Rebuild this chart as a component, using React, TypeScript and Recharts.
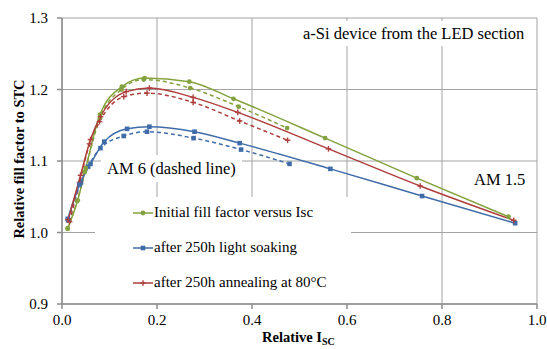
import React from "react";
import { LineChart, Line, XAxis, YAxis, CartesianGrid } from "recharts";

// relative Isc (x) and relative fill factor to STC (y)
const initialAm15X = [0.012, 0.033, 0.05, 0.08, 0.126, 0.174, 0.268, 0.361, 0.554, 0.747, 0.94];
const initialAm15Y = [1.006, 1.045, 1.09, 1.165, 1.204, 1.216, 1.211, 1.187, 1.132, 1.076, 1.022];
const initialAm6X = [0.012, 0.032, 0.048, 0.08, 0.125, 0.172, 0.27, 0.372, 0.474];
const initialAm6Y = [1.005, 1.044, 1.085, 1.16, 1.2, 1.214, 1.202, 1.176, 1.146];

const soakedAm15X = [0.012, 0.037, 0.06, 0.089, 0.137, 0.184, 0.279, 0.374, 0.565, 0.758, 0.954];
const soakedAm15Y = [1.019, 1.067, 1.096, 1.127, 1.145, 1.148, 1.141, 1.125, 1.089, 1.051, 1.013];
const soakedAm6X = [0.013, 0.04, 0.055, 0.081, 0.13, 0.179, 0.277, 0.377, 0.479];
const soakedAm6Y = [1.017, 1.07, 1.092, 1.118, 1.135, 1.141, 1.132, 1.116, 1.096];

const annealedAm15X = [0.013, 0.039, 0.06, 0.081, 0.135, 0.184, 0.276, 0.37, 0.561, 0.754, 0.951];
const annealedAm15Y = [1.018, 1.08, 1.13, 1.162, 1.197, 1.202, 1.189, 1.168, 1.117, 1.065, 1.017];
const annealedAm6X = [0.016, 0.037, 0.058, 0.079, 0.13, 0.179, 0.276, 0.374, 0.475];
const annealedAm6Y = [1.015, 1.07, 1.124, 1.155, 1.19, 1.195, 1.182, 1.156, 1.129];

const xTicks = [0, 0.2, 0.4, 0.6, 0.8, 1.0];
const yTicks = [0.9, 1.0, 1.1, 1.2, 1.3];

const legendLabels = [
  "Initial fill factor versus Isc",
  "after 250h light soaking",
  "after 250h annealing at 80°C",
];

const GREEN = "#84A23E";
const BLUE = "#3F6CA9";
const RED = "#AE3E3B";
const SERIF = '"Times New Roman", "Liberation Serif", Tinos, "DejaVu Serif", serif';

const toPoints = (xs: number[], ys: number[]) => xs.map((x, i) => ({ x, y: ys[i] }));

function CircleDot(props: any) {
  const { cx, cy, index } = props;
  if (cx == null || cy == null) return null;
  return <circle key={index} cx={cx} cy={cy} r={2.4} fill={GREEN} stroke="none" />;
}

function SquareDot(props: any) {
  const { cx, cy, index } = props;
  if (cx == null || cy == null) return null;
  return <rect key={index} x={cx - 2.3} y={cy - 2.3} width={4.6} height={4.6} fill={BLUE} />;
}

function PlusDot(props: any) {
  const { cx, cy, index } = props;
  if (cx == null || cy == null) return null;
  return (
    <g key={index} stroke={RED} strokeWidth={1.4}>
      <line x1={cx - 2.8} y1={cy} x2={cx + 2.8} y2={cy} />
      <line x1={cx} y1={cy - 2.8} x2={cx} y2={cy + 2.8} />
    </g>
  );
}

function LegendIcon({ color, kind }: { color: string; kind: string }) {
  return (
    <svg width={20} height={10} style={{ marginRight: 1 }}>
      <line x1={0} y1={5} x2={20} y2={5} stroke={color} strokeWidth={1.5} />
      {kind === "circle" && <circle cx={10} cy={5} r={2.4} fill={color} />}
      {kind === "square" && <rect x={7.7} y={2.7} width={4.6} height={4.6} fill={color} />}
      {kind === "plus" && (
        <g stroke={color} strokeWidth={1.4}>
          <line x1={7.2} y1={5} x2={12.8} y2={5} />
          <line x1={10} y1={2.2} x2={10} y2={7.8} />
        </g>
      )}
    </svg>
  );
}

export default function App() {
  const tick = { fill: "#000", fontSize: 15, fontFamily: SERIF };
  const legendKinds = [
    { color: GREEN, kind: "circle" },
    { color: BLUE, kind: "square" },
    { color: RED, kind: "plus" },
  ];

  return (
    <div style={{ position: "absolute", left: 0, top: 0, width: 547, height: 349, background: "#fff", fontFamily: SERIF }}>
      <LineChart width={547} height={349} margin={{ top: 18, right: 10, bottom: 0, left: 0 }} style={{ fontFamily: SERIF }}>
        <CartesianGrid stroke="#a3a3a3" strokeWidth={1} />
        <XAxis
          type="number"
          dataKey="x"
          domain={[0, 1]}
          ticks={xTicks}
          tickFormatter={(v) => v.toFixed(1)}
          tick={tick}
          tickSize={5}
          tickMargin={5}
          height={45}
          stroke="#8c8c8c"
          strokeWidth={1.5}
          allowDataOverflow
        />
        <YAxis
          type="number"
          dataKey="y"
          domain={[0.9, 1.3]}
          ticks={yTicks}
          tickFormatter={(v) => v.toFixed(1)}
          tick={tick}
          tickSize={5}
          tickMargin={9}
          width={62}
          stroke="#8c8c8c"
          strokeWidth={1.5}
          allowDataOverflow
        />
        <Line data={toPoints(initialAm6X, initialAm6Y)} dataKey="y" type="monotone" stroke={GREEN} strokeWidth={1.5} strokeDasharray="4 3" dot={CircleDot} isAnimationActive={false} />
        <Line data={toPoints(soakedAm6X, soakedAm6Y)} dataKey="y" type="monotone" stroke={BLUE} strokeWidth={1.5} strokeDasharray="4 3" dot={SquareDot} isAnimationActive={false} />
        <Line data={toPoints(annealedAm6X, annealedAm6Y)} dataKey="y" type="monotone" stroke={RED} strokeWidth={1.5} strokeDasharray="4 3" dot={PlusDot} isAnimationActive={false} />
        <Line data={toPoints(initialAm15X, initialAm15Y)} dataKey="y" type="monotone" stroke={GREEN} strokeWidth={1.5} dot={CircleDot} isAnimationActive={false} />
        <Line data={toPoints(soakedAm15X, soakedAm15Y)} dataKey="y" type="monotone" stroke={BLUE} strokeWidth={1.5} dot={SquareDot} isAnimationActive={false} />
        <Line data={toPoints(annealedAm15X, annealedAm15Y)} dataKey="y" type="monotone" stroke={RED} strokeWidth={1.5} dot={PlusDot} isAnimationActive={false} />
      </LineChart>

      {/* axis titles */}
      <div
        style={{
          position: "absolute", left: 19, top: 159, transform: "translate(-50%, -50%) rotate(-90deg)",
          whiteSpace: "nowrap", fontWeight: "bold", fontSize: 14.5, lineHeight: "16px",
        }}
      >
        Relative fill factor to STC
      </div>
      <div style={{ position: "absolute", left: 262, top: 330, whiteSpace: "nowrap", fontWeight: "bold", fontSize: 14.5, lineHeight: "15px" }}>
        Relative I<span style={{ fontSize: 10, position: "relative", top: 3 }}>SC</span>
      </div>

      {/* annotations */}
      <div style={{ position: "absolute", left: 300, top: 21, padding: "1px 3px", background: "#fff", fontSize: 16.5, lineHeight: "23px", whiteSpace: "nowrap" }}>
        a-Si device from the LED section
      </div>
      <div style={{ position: "absolute", left: 101, top: 155, padding: "1px 6px", background: "#fff", fontSize: 16.5, lineHeight: "25px", whiteSpace: "nowrap" }}>
        AM 6 (dashed line)
      </div>
      <div style={{ position: "absolute", left: 474, top: 168, fontSize: 16.5, lineHeight: "23px", whiteSpace: "nowrap" }}>
        AM 1.5
      </div>

      {/* legend */}
      <div style={{ position: "absolute", left: 95, top: 197, width: 256, height: 106, background: "#fff" }}>
        {legendLabels.map((label, i) => (
          <div
            key={label}
            style={{ position: "absolute", left: 38, top: 6 + i * 35, display: "flex", alignItems: "center", fontSize: 15, lineHeight: "19px", whiteSpace: "nowrap" }}
          >
            <LegendIcon color={legendKinds[i].color} kind={legendKinds[i].kind} />
            {label}
          </div>
        ))}
      </div>
    </div>
  );
}
